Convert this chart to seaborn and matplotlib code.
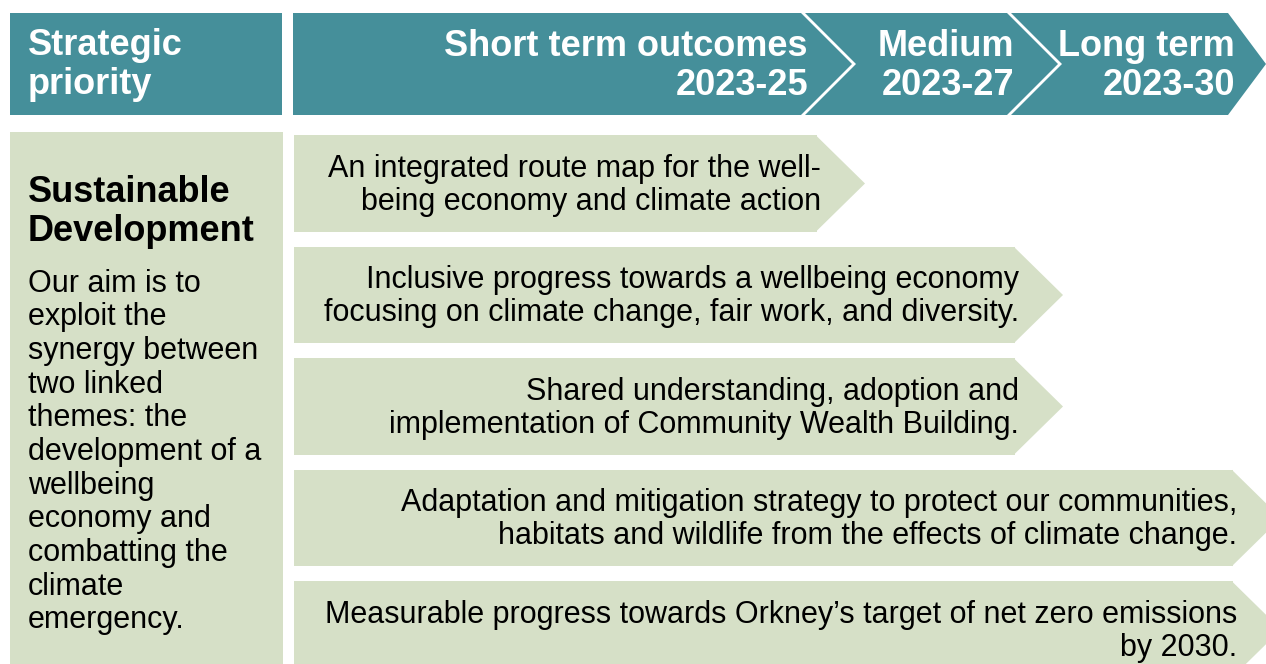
import matplotlib.pyplot as plt
import pandas as pd
import seaborn as sns

#------Data------

priority_title = "Sustainable\nDevelopment"
priority_text = [
    "Our aim is to",
    "exploit the",
    "synergy between",
    "two linked",
    "themes: the",
    "development of a",
    "wellbeing",
    "economy and",
    "combatting the",
    "climate",
    "emergency.",
]

horizons = ["Short term outcomes", "Medium", "Long term"]
horizon_years = ["2023-25", "2023-27", "2023-30"]

outcomes = [
    "An integrated route map for the well-\nbeing economy and climate action",
    "Inclusive progress towards a wellbeing economy\nfocusing on climate change, fair work, and diversity.",
    "Shared understanding, adoption and\nimplementation of Community Wealth Building.",
    "Adaptation and mitigation strategy to protect our communities,\nhabitats and wildlife from the effects of climate change.",
    "Measurable progress towards Orkney\u2019s target of net zero emissions\nby 2030.",
]
outcome_horizon = ["Short term outcomes", "Medium", "Medium", "Long term", "Long term"]

#------Layout / style------

W, H = 1266, 664
TEAL = "#458F9A"
SAGE = "#D6E0C7"
FONT = ["Liberation Sans", "DejaVu Sans"]
HEAD_FS = 26
BODY_FS = 22

# pixel layout of the horizon chevrons (body end, tip)
HEAD_TOP, HEAD_BOT = 13, 115
head_ends = {"Short term outcomes": 801, "Medium": 1007, "Long term": 1228}
arrow_ends = {"Short term outcomes": 817, "Medium": 1015, "Long term": 1233}
TIP = 50
ARROW_X0 = 294

sns.set_theme(style="white")
plt.rcParams["font.family"] = FONT

fig = plt.figure(figsize=(W / 100, H / 100), dpi=100)
ax = fig.add_axes([0, 0, 1, 1])
ax.set_xlim(0, W)
ax.set_ylim(H, 0)
ax.axis("off")

#------Header------

ax.fill([10, 282, 282, 10], [HEAD_TOP, HEAD_TOP, HEAD_BOT, HEAD_BOT], color=TEAL, lw=0)
ax.text(28, 65, "Strategic\npriority", color="white", fontsize=HEAD_FS, fontweight="bold",
        ha="left", va="center", linespacing=1.12)

mid = (HEAD_TOP + HEAD_BOT) / 2
half = (HEAD_BOT - HEAD_TOP) / 2
prev_end = None
for name, years in zip(horizons, horizon_years):
    end = head_ends[name]
    tip = min(end + half, W)
    if prev_end is None:
        xs = [293, end, tip, end, 293]
        ys = [HEAD_TOP, HEAD_TOP, mid, HEAD_BOT, HEAD_BOT]
    else:
        start = prev_end + 4
        xs = [start, end, tip, end, start, start + half]
        ys = [HEAD_TOP, HEAD_TOP, mid, HEAD_BOT, HEAD_BOT, mid]
    ax.fill(xs, ys, color=TEAL, lw=0)
    ax.text(end + 7, mid + 2, f"{name}\n{years}", color="white", fontsize=HEAD_FS,
            fontweight="bold", ha="right", va="center", linespacing=1.12)
    prev_end = end

#------Priority panel------

ax.fill([10, 283, 283, 10], [132, 132, H + 5, H + 5], color=SAGE, lw=0)
ax.text(28, 212, priority_title, fontsize=HEAD_FS, fontweight="bold", color="black",
        ha="left", va="center", linespacing=1.12)
ax.text(28, 452, "\n".join(priority_text), fontsize=BODY_FS, color="black",
        ha="left", va="center", linespacing=1.16)

#------Outcome arrows------

row_top, pitch = 127.75, 111.5
n = len(outcomes)
ax2 = fig.add_axes([ARROW_X0 / W, (H - (row_top + pitch * n)) / H,
                    (W - ARROW_X0) / W, pitch * n / H])

df = pd.DataFrame({
    "outcome": outcomes,
    "horizon": outcome_horizon,
})
df["end"] = df["horizon"].map(arrow_ends) - ARROW_X0

bar_w = 0.862
sns.barplot(data=df, x="end", y="outcome", orient="h", color=SAGE, saturation=1,
            width=bar_w, linewidth=0, ax=ax2)

for i, row in df.iterrows():
    e = row["end"]
    ax2.fill([e - 1, e + TIP - 2, e - 1], [i - bar_w / 2, i, i + bar_w / 2],
             color=SAGE, lw=0)
    ax2.text(e + 4, i + 0.015, row["outcome"], fontsize=BODY_FS, color="black",
             ha="right", va="center", linespacing=1.13)

ax2.set_xlim(0, W - ARROW_X0)
ax2.set_ylim(n - 0.5, -0.5)
ax2.axis("off")

fig.savefig("out.png", dpi=100)
